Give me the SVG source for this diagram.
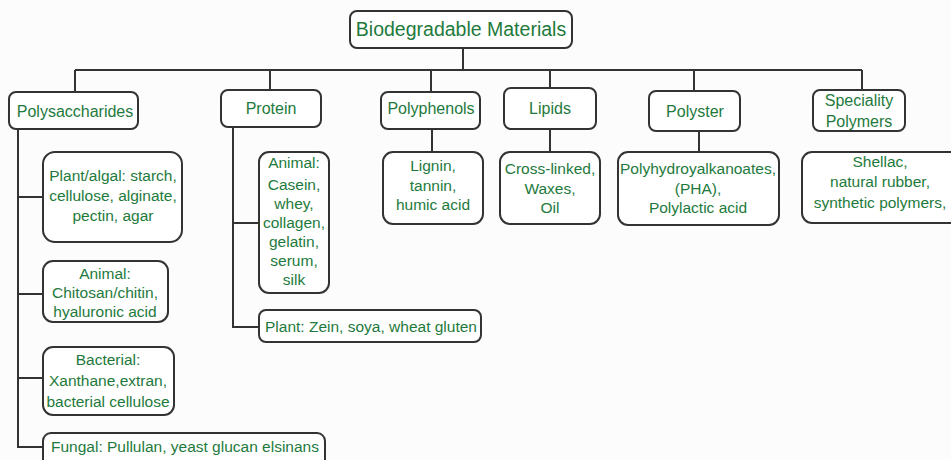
<svg xmlns="http://www.w3.org/2000/svg" width="951" height="460" viewBox="0 0 951 460">
<style>
.box{fill:#fff;stroke:#333;stroke-width:2}
.t{font-family:"Liberation Sans",Arial,sans-serif;font-size:15.5px;fill:#1e7a3c;text-anchor:middle}
.h{font-size:16px}
.c{fill:none;stroke:#333;stroke-width:2}
</style>
<rect width="951" height="460" fill="#fcfcfc"/>
<g id="connectors" class="c">
<path d="M463 48V70M75 70H862M75 70V92M270 70V90M431 70V92M550 70V88M694 70V91M862 70V90"/>
<path d="M18 129V447H43M18 197H43M18 294H43M18 378H43"/>
<path d="M233 127V327H259M233 223H259"/>
<path d="M432 129V152M550 129V152M699 131V152"/>
</g>
<g id="root"><rect class="box" x="350" y="11" width="222" height="37" rx="7"/><text class="t" x="461" y="36" style="font-size:19.5px">Biodegradable Materials</text></g>
<g id="polysaccharides"><rect class="box" x="9" y="92" width="129" height="37" rx="7"/><text class="t h" x="75" y="117">Polysaccharides</text></g>
<g id="protein"><rect class="box" x="221" y="90" width="100" height="37" rx="7"/><text class="t h" x="271" y="114">Protein</text></g>
<g id="polyphenols"><rect class="box" x="381" y="92" width="99" height="37" rx="7"/><text class="t h" x="431" y="114">Polyphenols</text></g>
<g id="lipids"><rect class="box" x="504" y="88" width="92" height="41" rx="7"/><text class="t h" x="550" y="114">Lipids</text></g>
<g id="polyster"><rect class="box" x="649" y="91" width="91" height="40" rx="7"/><text class="t h" x="695" y="117">Polyster</text></g>
<g id="speciality"><rect class="box" x="813" y="90" width="92" height="41" rx="7"/><text class="t h" x="859" y="106">Speciality</text><text class="t h" x="859" y="127">Polymers</text></g>
<g id="plant-algal"><rect class="box" x="43" y="152" width="139" height="90" rx="12"/><text class="t" x="113" y="181">Plant/algal: starch,</text><text class="t" x="113" y="201">cellulose, alginate,</text><text class="t" x="113" y="221">pectin, agar</text></g>
<g id="animal-poly"><rect class="box" x="43" y="261" width="125" height="61" rx="10"/><text class="t" x="105" y="279">Animal:</text><text class="t" x="105" y="298">Chitosan/chitin,</text><text class="t" x="105" y="317">hyaluronic acid</text></g>
<g id="bacterial"><rect class="box" x="43" y="347" width="131" height="68" rx="10"/><text class="t" x="108" y="365">Bacterial:</text><text class="t" x="108" y="386">Xanthane,extran,</text><text class="t" x="108" y="407">bacterial cellulose</text></g>
<g id="fungal"><rect class="box" x="43" y="433" width="282" height="40" rx="8"/><text class="t" x="185" y="452">Fungal: Pullulan, yeast glucan elsinans</text></g>
<g id="animal-protein"><rect class="box" x="259" y="152" width="70" height="141" rx="10"/><text class="t" x="294" y="168">Animal:</text><text class="t" x="294" y="190">Casein,</text><text class="t" x="294" y="209">whey,</text><text class="t" x="294" y="228">collagen,</text><text class="t" x="294" y="247">gelatin,</text><text class="t" x="294" y="266">serum,</text><text class="t" x="294" y="285">silk</text></g>
<g id="plant-protein"><rect class="box" x="259" y="310" width="222" height="32" rx="7"/><text class="t" x="371" y="332">Plant: Zein, soya, wheat gluten</text></g>
<g id="polyphenols-items"><rect class="box" x="383" y="152" width="100" height="72" rx="10"/><text class="t" x="433" y="171">Lignin,</text><text class="t" x="433" y="191">tannin,</text><text class="t" x="433" y="210">humic acid</text></g>
<g id="lipids-items"><rect class="box" x="500" y="152" width="100" height="72" rx="10"/><text class="t" x="550" y="174">Cross-linked,</text><text class="t" x="550" y="194">Waxes,</text><text class="t" x="550" y="213">Oil</text></g>
<g id="polyster-items"><rect class="box" x="618" y="152" width="161" height="73" rx="10"/><text class="t" x="698" y="174">Polyhydroyalkanoates,</text><text class="t" x="698" y="194">(PHA),</text><text class="t" x="698" y="213">Polylactic acid</text></g>
<g id="speciality-items"><rect class="box" x="802" y="152" width="160" height="71" rx="10"/><text class="t" x="880" y="167">Shellac,</text><text class="t" x="880" y="187">natural rubber,</text><text class="t" x="880" y="208">synthetic polymers,</text></g>
</svg>
